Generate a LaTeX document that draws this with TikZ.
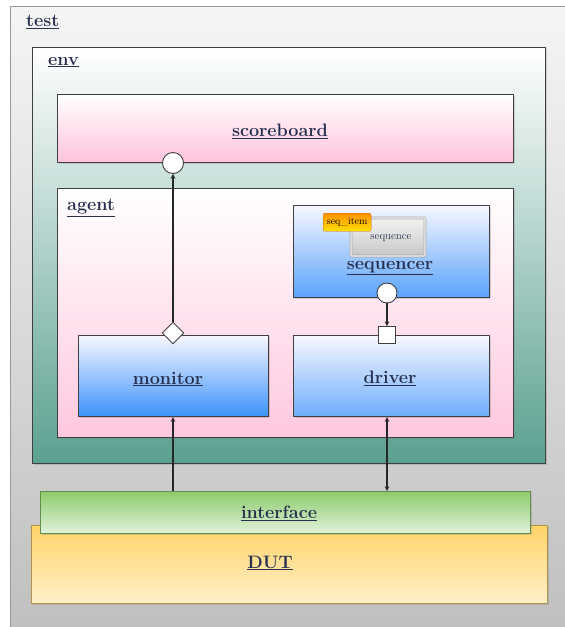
\documentclass[tikz,border=0pt]{standalone}
\usepackage{tikz}
\usetikzlibrary{shapes.geometric,shadows}

\definecolor{titulo}{HTML}{27304F}
\definecolor{tealenv}{HTML}{5AA090}
\definecolor{rosa}{HTML}{FFC2DC}
\definecolor{azul}{HTML}{3C92FA}
\definecolor{verde}{HTML}{8CCB6C}
\definecolor{amarelo}{HTML}{FFD468}

\begin{document}
\begin{tikzpicture}[x=1pt, y=-1pt, >=stealth,
    caixa/.style={draw=black!75, line width=1.1pt, rectangle, anchor=north west, inner sep=0pt,
        drop shadow={opacity=0.3, shadow xshift=1.5pt, shadow yshift=-1.5pt}},
    rotulo/.style={font=\fontsize{18}{20}\selectfont\bfseries, text=titulo, inner sep=0pt},
    porta/.style={draw=black!75, fill=white, line width=0.9pt, inner sep=0pt},
    seta/.style={->, line width=1.1pt, black!85}]
    \useasboundingbox (0,0) rectangle (565,627);

    % Test e env
    \node[caixa, draw=black!40, line width=0.8pt, top color=black!4, bottom color=black!25,
        minimum width=560pt, minimum height=626pt] (test) at (10,6) {};
    \node[rotulo, anchor=west] (testlbl) at (26,22) {\underline{test}};
    \node[caixa, top color=white, bottom color=tealenv, minimum width=513pt, minimum height=416pt] (env) at (32,47) {};
    \node[rotulo, anchor=west] (envlbl) at (48,62) {\underline{env}};

    % Scoreboard
    \node[caixa, top color=white, bottom color=rosa, minimum width=456pt, minimum height=68pt] (scoreboard) at (57,94) {};
    \node[rotulo] (sblbl) at (280,131) {\underline{scoreboard}};

    % Agent
    \node[caixa, top color=white, bottom color=rosa!90!white, minimum width=456pt, minimum height=249pt] (agent) at (57,188) {};
    \node[rotulo, anchor=west] (agentlbl) at (67,208) {\underline{agent}};

    % Sequencer
    \node[caixa, top color=blue!3, bottom color=azul!85!white, minimum width=196pt, minimum height=92pt] (sequencer) at (293,205) {};
    \node[draw=black!35, line width=0.8pt, double=black!5, double distance=1.2pt, rectangle, rounded corners=1pt,
        top color=black!5, bottom color=black!22, minimum width=74pt, minimum height=38pt, inner sep=0pt] (seqbox) at (388,237) {};
    \node[font=\fontsize{11}{12}\selectfont, text=titulo, inner sep=0pt] (seqtxt) at (391,238) {sequence};
    \node[rounded corners=2pt, top color=orange!85!yellow, bottom color=yellow!75!orange, draw=orange!80!black, line width=0.3pt,
        minimum width=48pt, minimum height=18pt, inner sep=0pt, anchor=north west,
        font=\fontsize{10}{11}\selectfont] (seqitem) at (323,213) {seq\_item};
    \node[rotulo] (seqrlbl) at (390,268) {\underline{sequencer}};

    % Monitor e driver
    \node[caixa, top color=blue!3, bottom color=azul, minimum width=190pt, minimum height=81pt] (monitor) at (78,335) {};
    \node[rotulo] (monlbl) at (168,379) {\underline{monitor}};
    \node[caixa, top color=blue!3, bottom color=azul!75!white, minimum width=196pt, minimum height=81pt] (driver) at (293,335) {};
    \node[rotulo] (drvlbl) at (390,378) {\underline{driver}};

    % Portas
    \node[porta, circle, minimum size=21pt] (sbport) at (173,163) {};
    \node[porta, diamond, minimum size=22pt] (monport) at (173,333) {};
    \node[porta, circle, minimum size=20pt] (seqport) at (387,293) {};
    \node[porta, rectangle, minimum size=17pt] (drvport) at (387,335) {};
    \draw[seta] (monport) -- (sbport);
    \draw[seta] (seqport) -- (drvport);

    % DUT e interface
    \node[caixa, draw=amarelo!70!black, line width=0.8pt, top color=amarelo, bottom color=amarelo!35!white,
        minimum width=516pt, minimum height=78pt] (dut) at (31,525) {};
    \node[rotulo] (dutlbl) at (270,563) {\underline{DUT}};
    \node[caixa, draw=verde!70!black, line width=0.8pt, top color=verde, bottom color=verde!25!white,
        minimum width=490pt, minimum height=42pt] (interface) at (40,491) {};
    \node[rotulo] (iflbl) at (279,513) {\underline{interface}};

    % Ligacoes
    \draw[seta] (interface.north -| monport) -- (monitor.south -| monport);
    \draw[seta, <->] (driver.south -| drvport) -- (interface.north -| drvport);
\end{tikzpicture}
\end{document}
